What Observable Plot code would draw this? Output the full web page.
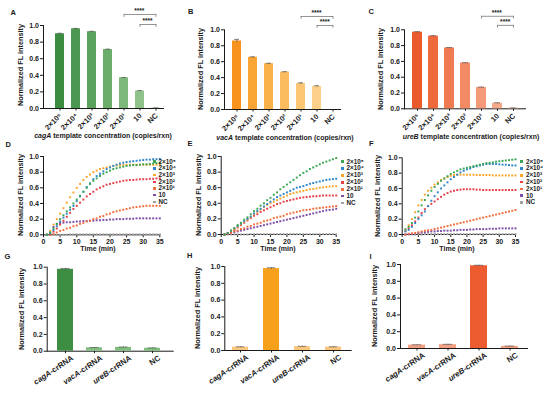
<!DOCTYPE html>
<html>
<head>
<meta charset="utf-8">
<script src="https://cdn.jsdelivr.net/npm/d3@7"></script>
<script src="https://cdn.jsdelivr.net/npm/@observablehq/plot@0.6"></script>
<style>
  body { margin: 0; background: #fff; }
  #fig { position: relative; width: 554px; height: 396px; overflow: hidden;
         font-family: "Liberation Sans", Arial, Helvetica, sans-serif; font-weight: bold; color: #1a1a1a; }
  .letter { position: absolute; font-size: 7.5px; line-height: 1; font-weight: bold; }
  .xtitle { position: absolute; font-size: 7px; line-height: 1; white-space: nowrap; transform: translate(-50%, -50%); }
  .ytitle { position: absolute; font-size: 7.3px; line-height: 1; white-space: nowrap; transform: translate(-50%, -50%) rotate(-90deg); }
  .leg { position: absolute; font-size: 6.3px; line-height: 1; white-space: nowrap; display: flex; align-items: center; height: 6px; }
  .leg .sw { display: inline-block; width: 2.5px; height: 2.5px; margin-right: 3px; }
</style>
</head>
<body>
<div id="fig"></div>
<script>
// ---------------- DATA ----------------
const concCats = ["2×10⁵", "2×10⁴", "2×10³", "2×10²", "2×10¹", "10", "NC"];
const cagAVals = [0.90, 0.96, 0.925, 0.71, 0.37, 0.21, 0.005];
const cagAErr  = [0.006, 0.005, 0.005, 0.005, 0.004, 0.006, 0.002];
const vacAVals = [0.86, 0.655, 0.575, 0.47, 0.325, 0.29, 0.0];
const vacAErr  = [0.02, 0.006, 0.005, 0.004, 0.01, 0.008, 0.0];
const ureBVals = [0.97, 0.92, 0.77, 0.58, 0.27, 0.07, 0.008];
const ureBErr  = [0.006, 0.005, 0.005, 0.004, 0.005, 0.006, 0.002];
const sigPairs = [["2×10¹", "NC"], ["10", "NC"]];
const sigLabel = "****";

const crCats = ["cagA-crRNA", "vacA-crRNA", "ureB-crRNA", "NC"];
const gVals = [0.975, 0.04, 0.045, 0.035];
const gErr  = [0.01, 0.004, 0.005, 0.004];
const hVals = [0.04, 0.975, 0.045, 0.04];
const hErr  = [0.004, 0.01, 0.005, 0.004];
const iVals = [0.04, 0.045, 0.985, 0.025];
const iErr  = [0.004, 0.005, 0.006, 0.004];

const yTicks = [0, 0.2, 0.4, 0.6, 0.8, 1.0];
const timeTicks = [0, 5, 10, 15, 20, 25, 30, 35];
const timeMin = [1,2,3,4,5,6,7,8,9,10,11,12,13,14,15,16,17,18,19,20,21,22,23,24,25,26,27,28,29,30,31,32,33,34,35];
const seriesNames = ["2×10⁵", "2×10⁴", "2×10³", "2×10²", "2×10¹", "10", "NC"];
const yTitle = "Normalized FL intensity";
const timeTitle = "Time (min)";
const genes = ["cagA", "vacA", "ureB"];
const concTitleRest = " template concentration (copies/rxn)";

// D: cagA kinetics
const dS5  = [0.00,0.03,0.08,0.14,0.20,0.25,0.30,0.35,0.40,0.45,0.50,0.55,0.60,0.65,0.69,0.72,0.75,0.78,0.80,0.82,0.84,0.85,0.86,0.87,0.88,0.885,0.89,0.89,0.895,0.90,0.90,0.905,0.91,0.915,0.92];
const dS4  = [0.00,0.02,0.06,0.11,0.17,0.22,0.27,0.32,0.37,0.43,0.49,0.55,0.61,0.66,0.71,0.75,0.78,0.81,0.84,0.86,0.88,0.895,0.91,0.92,0.93,0.935,0.94,0.945,0.95,0.955,0.96,0.96,0.965,0.965,0.97];
const dS3  = [0.00,0.05,0.13,0.20,0.27,0.34,0.41,0.48,0.54,0.60,0.65,0.70,0.74,0.77,0.80,0.82,0.84,0.85,0.86,0.87,0.88,0.885,0.89,0.89,0.895,0.895,0.895,0.895,0.895,0.895,0.895,0.895,0.895,0.895,0.895];
const dS2  = [0.00,0.01,0.04,0.08,0.13,0.18,0.23,0.28,0.33,0.37,0.41,0.45,0.49,0.52,0.55,0.58,0.60,0.62,0.64,0.65,0.66,0.67,0.68,0.69,0.695,0.70,0.70,0.705,0.71,0.71,0.71,0.715,0.715,0.72,0.72];
const dS1  = [0.00,0.00,0.01,0.03,0.05,0.06,0.08,0.09,0.11,0.12,0.14,0.15,0.17,0.18,0.20,0.21,0.23,0.24,0.26,0.27,0.29,0.30,0.31,0.32,0.33,0.34,0.35,0.355,0.36,0.365,0.37,0.37,0.37,0.37,0.37];
const dS10 = [0.00,0.03,0.10,0.14,0.15,0.155,0.16,0.16,0.165,0.17,0.17,0.175,0.175,0.18,0.18,0.185,0.185,0.19,0.19,0.195,0.195,0.20,0.20,0.20,0.205,0.205,0.205,0.21,0.21,0.21,0.21,0.21,0.21,0.21,0.21];
const dNC  = [0.00,0.00,0.00,0.00,0.00,0.00,0.00,0.005,0.005,0.005,0.005,0.005,0.005,0.005,0.005,0.005,0.005,0.005,0.005,0.005,0.005,0.005,0.005,0.005,0.005,0.005,0.005,0.005,0.005,0.005,0.005,0.005,0.005,0.005,0.005];

// E: vacA kinetics
const eS5  = [0.00,0.02,0.05,0.08,0.12,0.15,0.19,0.22,0.26,0.30,0.33,0.37,0.40,0.44,0.47,0.51,0.54,0.58,0.61,0.64,0.67,0.70,0.73,0.76,0.79,0.81,0.84,0.86,0.88,0.90,0.92,0.935,0.95,0.965,0.98];
const eS4  = [0.00,0.02,0.05,0.08,0.11,0.14,0.17,0.20,0.23,0.27,0.30,0.33,0.36,0.39,0.42,0.45,0.48,0.50,0.52,0.54,0.56,0.58,0.60,0.61,0.62,0.635,0.65,0.66,0.67,0.68,0.69,0.70,0.705,0.71,0.715];
const eS3  = [0.00,0.02,0.05,0.07,0.10,0.13,0.16,0.19,0.22,0.26,0.29,0.32,0.35,0.38,0.40,0.42,0.44,0.46,0.48,0.50,0.52,0.53,0.54,0.55,0.56,0.57,0.58,0.585,0.59,0.60,0.605,0.61,0.615,0.62,0.62];
const eS2  = [0.00,0.02,0.04,0.06,0.09,0.12,0.15,0.18,0.21,0.24,0.26,0.29,0.31,0.33,0.35,0.37,0.39,0.40,0.42,0.43,0.44,0.45,0.46,0.47,0.475,0.48,0.485,0.49,0.49,0.495,0.50,0.50,0.50,0.50,0.50];
const eS1  = [0.00,0.01,0.02,0.04,0.05,0.07,0.08,0.10,0.11,0.13,0.14,0.15,0.17,0.18,0.19,0.21,0.22,0.23,0.24,0.26,0.27,0.28,0.29,0.30,0.31,0.315,0.32,0.33,0.335,0.34,0.345,0.35,0.355,0.36,0.365];
const eS10 = [0.00,0.01,0.02,0.03,0.04,0.05,0.06,0.07,0.08,0.09,0.10,0.11,0.12,0.13,0.14,0.15,0.16,0.17,0.18,0.19,0.20,0.21,0.22,0.23,0.24,0.25,0.26,0.27,0.28,0.29,0.30,0.31,0.315,0.32,0.33];
const eNC  = [0.00,0.00,0.00,0.00,0.00,0.00,0.00,0.00,0.005,0.005,0.005,0.005,0.005,0.005,0.005,0.005,0.005,0.005,0.005,0.005,0.005,0.005,0.005,0.005,0.005,0.005,0.005,0.005,0.005,0.005,0.005,0.005,0.005,0.005,0.005];

// F: ureB kinetics
const fS5  = [0.07,0.10,0.15,0.22,0.30,0.38,0.45,0.51,0.57,0.62,0.66,0.70,0.73,0.76,0.79,0.81,0.83,0.85,0.86,0.87,0.88,0.89,0.90,0.91,0.92,0.93,0.935,0.94,0.95,0.955,0.96,0.965,0.97,0.975,0.98];
const fS4  = [0.04,0.06,0.10,0.15,0.20,0.25,0.30,0.37,0.44,0.50,0.55,0.60,0.64,0.68,0.72,0.75,0.78,0.81,0.83,0.85,0.86,0.88,0.89,0.90,0.91,0.92,0.92,0.92,0.92,0.915,0.91,0.91,0.905,0.90,0.90];
const fS3  = [0.05,0.12,0.20,0.29,0.38,0.45,0.52,0.57,0.61,0.65,0.68,0.71,0.73,0.75,0.765,0.775,0.78,0.78,0.78,0.78,0.78,0.78,0.775,0.775,0.775,0.775,0.775,0.77,0.77,0.77,0.77,0.77,0.77,0.77,0.77];
const fS2  = [0.05,0.08,0.12,0.17,0.22,0.28,0.33,0.37,0.40,0.43,0.46,0.49,0.52,0.54,0.56,0.57,0.58,0.585,0.59,0.59,0.59,0.59,0.585,0.585,0.58,0.58,0.58,0.58,0.58,0.58,0.58,0.58,0.58,0.58,0.58];
const fS1  = [0.00,0.01,0.015,0.02,0.03,0.04,0.05,0.055,0.06,0.07,0.08,0.09,0.10,0.11,0.12,0.13,0.14,0.15,0.16,0.17,0.18,0.19,0.20,0.21,0.22,0.23,0.24,0.25,0.26,0.27,0.28,0.29,0.30,0.31,0.32];
const fS10 = [0.00,0.005,0.01,0.015,0.02,0.025,0.03,0.035,0.04,0.04,0.045,0.045,0.05,0.05,0.05,0.055,0.055,0.06,0.06,0.06,0.065,0.065,0.07,0.07,0.07,0.07,0.075,0.075,0.075,0.08,0.08,0.08,0.08,0.08,0.08];
const fNC  = [0.00,0.00,0.00,0.00,0.00,0.00,0.005,0.005,0.005,0.005,0.005,0.005,0.005,0.005,0.005,0.005,0.005,0.005,0.005,0.005,0.005,0.005,0.005,0.005,0.005,0.005,0.005,0.005,0.005,0.005,0.005,0.005,0.005,0.005,0.005];

// ---------------- STYLES ----------------
const fontFam = '"Liberation Sans", Arial, Helvetica, sans-serif';
const paletteA = ["#3b8b41", "#4b9850", "#5aa35d", "#6aae6a", "#7db97b", "#8fc38b", "#a7d1a2"];
const paletteB = ["#f7931e", "#f9a535", "#fab14a", "#fbbc60", "#fcc673", "#fdd089", "#fedba3"];
const paletteC = ["#eb5a2a", "#ee6a3d", "#f07a51", "#f28a64", "#f49a78", "#f6aa8c", "#f8bba3"];
const paletteG = ["#3d8d42", "#7fbe7e", "#7fbe7e", "#7fbe7e"];
const paletteH = ["#fbc57c", "#f7a01b", "#fbc57c", "#fbc57c"];
const paletteI = ["#f4a082", "#f4a082", "#ec5c30", "#f4a082"];
const seriesColors = ["#3aa655", "#2f86c8", "#f8a52a", "#e5404a", "#f2703f", "#7d4fa8", "#a0a0a0"];

const fig = document.getElementById("fig");
function place(node, left, top) {
  node.style.position = "absolute";
  node.style.left = left + "px";
  node.style.top = top + "px";
  fig.appendChild(node);
}
function addDiv(cls, html, x, y) {
  const d = document.createElement("div");
  d.className = cls;
  d.innerHTML = html;
  place(d, x, y);
  return d;
}
const baseStyle = {fontFamily: fontFam, fontSize: "7px", fontWeight: "bold", color: "#1a1a1a", background: "transparent", overflow: "visible"};
const yOpts = {domain: [0, 1], ticks: yTicks, tickFormat: d3.format(".1f"), tickSize: 3, tickPadding: 1.5, line: true, label: null};

function italicizeGenes(svg) {
  d3.select(svg).selectAll("text").each(function () {
    const m = this.textContent.match(/^(cagA|vacA|ureB)(-crRNA)$/);
    if (m) {
      this.textContent = "";
      d3.select(this).append("tspan").attr("font-style", "italic").text(m[1]);
      d3.select(this).append("tspan").text(m[2]);
    }
  });
}

function barPanel(p) {
  const n = p.cats.length;
  const step = (p.range[1] - p.range[0]) / (n - p.pad);
  const data = p.cats.map((c, i) => ({cat: c, v: p.vals[i], e: p.errs[i]}));
  const withErr = data.filter(d => d.e > 0);
  const marks = [
    Plot.barY(data, {x: "cat", y: "v", fill: "cat"}),
    Plot.ruleX(withErr, {x: "cat", y1: d => d.v - d.e, y2: d => d.v + d.e, stroke: "#555", strokeWidth: 0.7}),
    Plot.tickY(withErr, {x: "cat", y: d => d.v + d.e, stroke: "#555", strokeWidth: 0.7, insetLeft: step * 0.12, insetRight: step * 0.12}),
    // category labels under the axis, rotated
    Plot.text(data, {x: "cat", y: 0, text: "cat", rotate: p.rotate, textAnchor: "end", lineAnchor: "middle",
                     dy: p.labelDy, dx: p.labelDx, fontSize: p.labelSize, fill: "#1a1a1a"})
  ];
  if (p.levels) {
    const br = sigPairs.map(([a, b], i) => ({a, b, lev: p.levels[i], span: p.cats.indexOf(b) - p.cats.indexOf(a)}));
    marks.push(Plot.link(br, {x1: "a", x2: "b", y1: "lev", y2: "lev", stroke: "#666", strokeWidth: 0.7}));
    marks.push(Plot.ruleX(br, {x: "a", y1: "lev", y2: d => d.lev - 0.035, stroke: "#666", strokeWidth: 0.7}));
    marks.push(Plot.ruleX(br, {x: "b", y1: "lev", y2: d => d.lev - 0.035, stroke: "#666", strokeWidth: 0.7}));
    br.forEach(d => marks.push(Plot.text([d], {x: "b", y: "lev", text: () => sigLabel, dx: -d.span * step / 2, dy: -3.5, fontSize: 6.5})));
  }
  const svg = Plot.plot({
    width: p.width, height: p.height,
    marginLeft: p.ml, marginRight: p.mr, marginTop: p.mt, marginBottom: p.mb,
    style: baseStyle,
    x: {domain: p.cats, range: p.range, paddingInner: p.pad, paddingOuter: 0, align: 0.5,
        tickSize: 2.5, tickFormat: () => "", label: null, line: true},
    y: yOpts,
    color: {domain: p.cats, range: p.colors},
    marks
  });
  italicizeGenes(svg);
  place(svg, p.left, p.top);
  addDiv("ytitle", yTitle, p.yt[0], p.yt[1]);
}

function timePanel(p) {
  const rows = [];
  p.series.forEach((vals, k) => vals.forEach((v, i) => rows.push({t: timeMin[i], v, name: seriesNames[k]})));
  rows.reverse();
  const svg = Plot.plot({
    width: p.width, height: p.height,
    marginLeft: p.ml, marginRight: p.mr, marginTop: p.mt, marginBottom: p.mb,
    style: baseStyle,
    x: {domain: [0, 35], ticks: timeTicks, tickSize: 3, tickPadding: 1.5, line: true, label: null},
    y: yOpts,
    color: {domain: seriesNames, range: seriesColors},
    marks: [Plot.dot(rows, {x: "t", y: "v", fill: "name", symbol: "square", r: 1.1})]
  });
  place(svg, p.left, p.top);
  addDiv("ytitle", yTitle, p.yt[0], p.yt[1]);
  addDiv("xtitle", timeTitle, p.xt[0], p.xt[1]);
  seriesNames.forEach((name, i) => {
    addDiv("leg", `<span class="sw" style="background:${seriesColors[i]}"></span>${name}`,
           p.legX - 1.25, p.legY + i * p.legDy - 3);
  });
}

// Row 1
barPanel({cats: concCats, vals: cagAVals, errs: cagAErr, colors: paletteA, left: 0, top: 0, width: 185, height: 140,
  ml: 43, mr: 22, mt: 25, mb: 32, range: [52.4, 163], pad: 0.42, rotate: -45, labelDy: 6, labelDx: 0.5, labelSize: 7.4,
  levels: [1.133, 1.012], yt: [21, 65]});
barPanel({cats: concCats, vals: vacAVals, errs: vacAErr, colors: paletteB, left: 185, top: 0, width: 185, height: 140,
  ml: 39, mr: 30, mt: 29.3, mb: 31, range: [45.1, 153.4], pad: 0.41, rotate: -45, labelDy: 6, labelDx: 0.5, labelSize: 7.4,
  levels: [1.167, 1.054], yt: [200.5, 69]});
barPanel({cats: concCats, vals: ureBVals, errs: ureBErr, colors: paletteC, left: 370, top: 0, width: 184, height: 140,
  ml: 34, mr: 29, mt: 29.3, mb: 31.7, range: [40, 150], pad: 0.4, rotate: -45, labelDy: 6, labelDx: 0.5, labelSize: 7.4,
  levels: [1.171, 1.056], yt: [381, 69]});

// Row 2
timePanel({series: [dS5, dS4, dS3, dS2, dS1, dS10, dNC], left: 0, top: 140, width: 185, height: 115,
  ml: 43, mr: 25.7, mt: 16, mb: 20.7, legX: 154.3, legY: 161.7, legDy: 6.7, yt: [20.7, 195], xt: [98, 248]});
timePanel({series: [eS5, eS4, eS3, eS2, eS1, eS10, eNC], left: 185, top: 140, width: 185, height: 115,
  ml: 35.7, mr: 34.3, mt: 16, mb: 21, legX: 342.3, legY: 161.7, legDy: 6.9, yt: [199, 195], xt: [278, 248]});
timePanel({series: [fS5, fS4, fS3, fS2, fS1, fS10, fNC], left: 370, top: 140, width: 184, height: 115,
  ml: 31.7, mr: 39, mt: 17.3, mb: 21, legX: 521.7, legY: 161.7, legDy: 6.8, yt: [378, 195.5], xt: [457, 248]});

// Row 3
barPanel({cats: crCats, vals: gVals, errs: gErr, colors: paletteG, left: 0, top: 255, width: 185, height: 141,
  ml: 46.7, mr: 12.3, mt: 11.7, mb: 45.3, range: [56.7, 160.6], pad: 0.454, rotate: -34, labelDy: 6, labelDx: 7, labelSize: 7.8,
  yt: [21.7, 309]});
barPanel({cats: crCats, vals: hVals, errs: hErr, colors: paletteH, left: 185, top: 255, width: 185, height: 141,
  ml: 39.3, mr: 19.3, mt: 11, mb: 46, range: [46, 155.9], pad: 0.489, rotate: -34, labelDy: 6, labelDx: 7, labelSize: 7.8,
  yt: [198, 308]});
barPanel({cats: crCats, vals: iVals, errs: iErr, colors: paletteI, left: 370, top: 255, width: 184, height: 141,
  ml: 30, mr: 27, mt: 9, mb: 48, range: [38.3, 148.3], pad: 0.463, rotate: -34, labelDy: 6, labelDx: 7, labelSize: 7.8,
  yt: [375, 306]});

// x titles for row 1 (gene name italic)
[[genes[0], 103, 135.3], [genes[1], 285, 136.5], [genes[2], 471, 136]].forEach(([g, x, y]) => {
  addDiv("xtitle", `<i>${g}</i>${concTitleRest}`, x, y);
});

// panel letters
[["A", 13, 12.5], ["B", 190.5, 12], ["C", 371, 12], ["D", 8, 145], ["E", 190, 144], ["F", 371.5, 144],
 ["G", 7, 256.5], ["H", 189.5, 256], ["I", 372, 256.5]].forEach(([t, x, y]) => {
  const d = addDiv("letter", "", x - 2.5, y - 3.75);
  d.textContent = t;
});
</script>
</body>
</html>
